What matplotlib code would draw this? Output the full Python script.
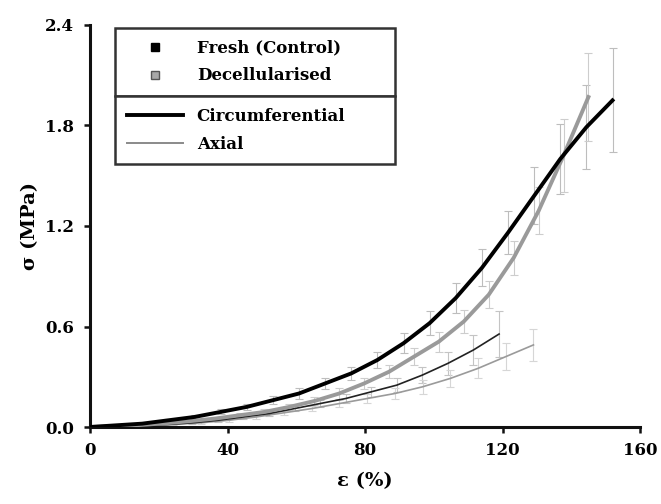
import matplotlib
matplotlib.use("Agg")
import matplotlib.pyplot as plt
from matplotlib.lines import Line2D

# ---- data ----
fresh_circ_strain = [0, 7.6, 15.2, 22.8, 30.4, 38, 45.6, 53.2, 60.8, 68.4, 76,
                     83.6, 91.2, 98.8, 106.4, 114, 121.6, 129.2, 136.8, 144.4, 152]
fresh_circ_stress = [0, 0.01, 0.02, 0.04, 0.06, 0.09, 0.12, 0.16, 0.20, 0.26, 0.32,
                     0.40, 0.50, 0.62, 0.77, 0.95, 1.16, 1.38, 1.60, 1.79, 1.95]
fresh_circ_err = [0, 0, 0.005, 0.01, 0.01, 0.015, 0.02, 0.025, 0.03, 0.035, 0.04,
                  0.05, 0.06, 0.07, 0.09, 0.11, 0.13, 0.17, 0.21, 0.25, 0.31]

decell_circ_strain = [0, 7.25, 14.5, 21.75, 29, 36.25, 43.5, 50.75, 58, 65.25, 72.5,
                      79.75, 87, 94.25, 101.5, 108.75, 116, 123.25, 130.5, 137.75, 145]
decell_circ_stress = [0, 0.005, 0.012, 0.022, 0.035, 0.05, 0.07, 0.09, 0.12, 0.155, 0.20,
                      0.26, 0.33, 0.42, 0.51, 0.63, 0.79, 1.01, 1.29, 1.62, 1.97]
decell_circ_err = [0, 0, 0.003, 0.005, 0.008, 0.01, 0.012, 0.015, 0.02, 0.025, 0.03,
                   0.035, 0.04, 0.05, 0.06, 0.07, 0.08, 0.10, 0.14, 0.22, 0.26]

fresh_axial_strain = [0, 7.44, 14.88, 22.31, 29.75, 37.19, 44.63, 52.06, 59.5,
                      66.94, 74.38, 81.81, 89.25, 96.69, 104.13, 111.56, 119]
fresh_axial_stress = [0, 0.003, 0.008, 0.015, 0.025, 0.04, 0.06, 0.08, 0.11,
                      0.14, 0.17, 0.21, 0.25, 0.31, 0.38, 0.46, 0.555]
fresh_axial_err = [0, 0, 0.002, 0.004, 0.006, 0.008, 0.01, 0.012, 0.015,
                   0.02, 0.025, 0.03, 0.04, 0.05, 0.07, 0.09, 0.14]

decell_axial_strain = [0, 8.06, 16.13, 24.19, 32.25, 40.31, 48.38, 56.44, 64.5,
                       72.56, 80.63, 88.69, 96.75, 104.81, 112.88, 120.94, 129]
decell_axial_stress = [0, 0.003, 0.008, 0.015, 0.025, 0.04, 0.06, 0.085, 0.11,
                       0.14, 0.17, 0.20, 0.24, 0.29, 0.35, 0.42, 0.49]
decell_axial_err = [0, 0, 0.002, 0.004, 0.006, 0.008, 0.01, 0.012, 0.015,
                    0.02, 0.025, 0.03, 0.04, 0.05, 0.06, 0.08, 0.095]

x_ticks = [0, 40, 80, 120, 160]
y_ticks = [0.0, 0.6, 1.2, 1.8, 2.4]
legend_groups = ["Fresh (Control)", "Decellularised"]
legend_dirs = ["Circumferential", "Axial"]

FONT = "DejaVu Serif"
plt.rcParams["font.family"] = FONT
plt.rcParams["font.weight"] = "bold"

fig = plt.figure(figsize=(6.61, 5.04), dpi=100)
ax = fig.add_axes([90 / 661, 77 / 504, 550 / 661, 402 / 504])

bar_kw = dict(fmt="none", elinewidth=0.8, capsize=3.2, capthick=0.8, zorder=1)
ax.errorbar(fresh_circ_strain, fresh_circ_stress, yerr=fresh_circ_err, ecolor="#bdbdbd", **bar_kw)
ax.errorbar(decell_circ_strain, decell_circ_stress, yerr=decell_circ_err, ecolor="#cdcdcd", **bar_kw)
ax.errorbar(fresh_axial_strain, fresh_axial_stress, yerr=fresh_axial_err, ecolor="#c4c4c4", **bar_kw)
ax.errorbar(decell_axial_strain, decell_axial_stress, yerr=decell_axial_err, ecolor="#d6d6d6", **bar_kw)

ax.plot(decell_axial_strain, decell_axial_stress, color="#9a9a9a", lw=1.2, zorder=2)
ax.plot(fresh_axial_strain, fresh_axial_stress, color="#222222", lw=1.2, zorder=3)
ax.plot(decell_circ_strain, decell_circ_stress, color="#9a9a9a", lw=2.8, zorder=4)
ax.plot(fresh_circ_strain, fresh_circ_stress, color="#000000", lw=2.8, zorder=5)

ax.set_xlim(0, 160)
ax.set_ylim(0, 2.4)
ax.set_xticks(x_ticks)
ax.set_xticklabels([str(v) for v in x_ticks])
ax.set_yticks(y_ticks)
ax.set_yticklabels(["%.1f" % v for v in y_ticks])

for s in ["top", "right"]:
    ax.spines[s].set_visible(False)
for s in ["left", "bottom"]:
    ax.spines[s].set_linewidth(2.2)
    ax.spines[s].set_color("#111111")

ax.tick_params(axis="both", direction="out", length=4.5, width=1.8, color="#111111",
               labelsize=12)
ax.tick_params(axis="x", pad=6)
ax.tick_params(axis="y", pad=7)
for lab in ax.get_xticklabels() + ax.get_yticklabels():
    lab.set_fontweight("bold")

ax.set_xlabel("ε (%)", fontsize=14, fontweight="bold", labelpad=10)
ax.set_ylabel("σ (MPa)", fontsize=14, fontweight="bold", labelpad=4)

# ---- legend: two stacked boxes sharing a border ----
h1 = [Line2D([], [], ls="none", marker="s", ms=6, mfc="black", mec="black"),
      Line2D([], [], ls="none", marker="s", ms=6, mfc="#a8a8a8", mec="#555555", mew=1)]
h2 = [Line2D([], [], color="black", lw=2.8),
      Line2D([], [], color="#8a8a8a", lw=1.4)]

x0, w = 0.0455, 0.509
ydiv = 0.823
leg_kw = dict(mode="expand", borderaxespad=0, frameon=True, fancybox=False,
              framealpha=1, edgecolor="#333333", handlelength=3.4, handletextpad=0.8,
              borderpad=0.7, labelspacing=0.65,
              prop={"family": FONT, "weight": "bold", "size": 12})
leg1 = ax.legend(h1, legend_groups, loc="lower left",
                 bbox_to_anchor=(x0, ydiv, w, 0.18), **leg_kw)
leg1.get_frame().set_linewidth(1.8)
ax.add_artist(leg1)
leg2 = ax.legend(h2, legend_dirs, loc="upper left",
                 bbox_to_anchor=(x0, ydiv - 0.18, w, 0.18), **leg_kw)
leg2.get_frame().set_linewidth(1.8)

fig.savefig("out.png", dpi=100)
